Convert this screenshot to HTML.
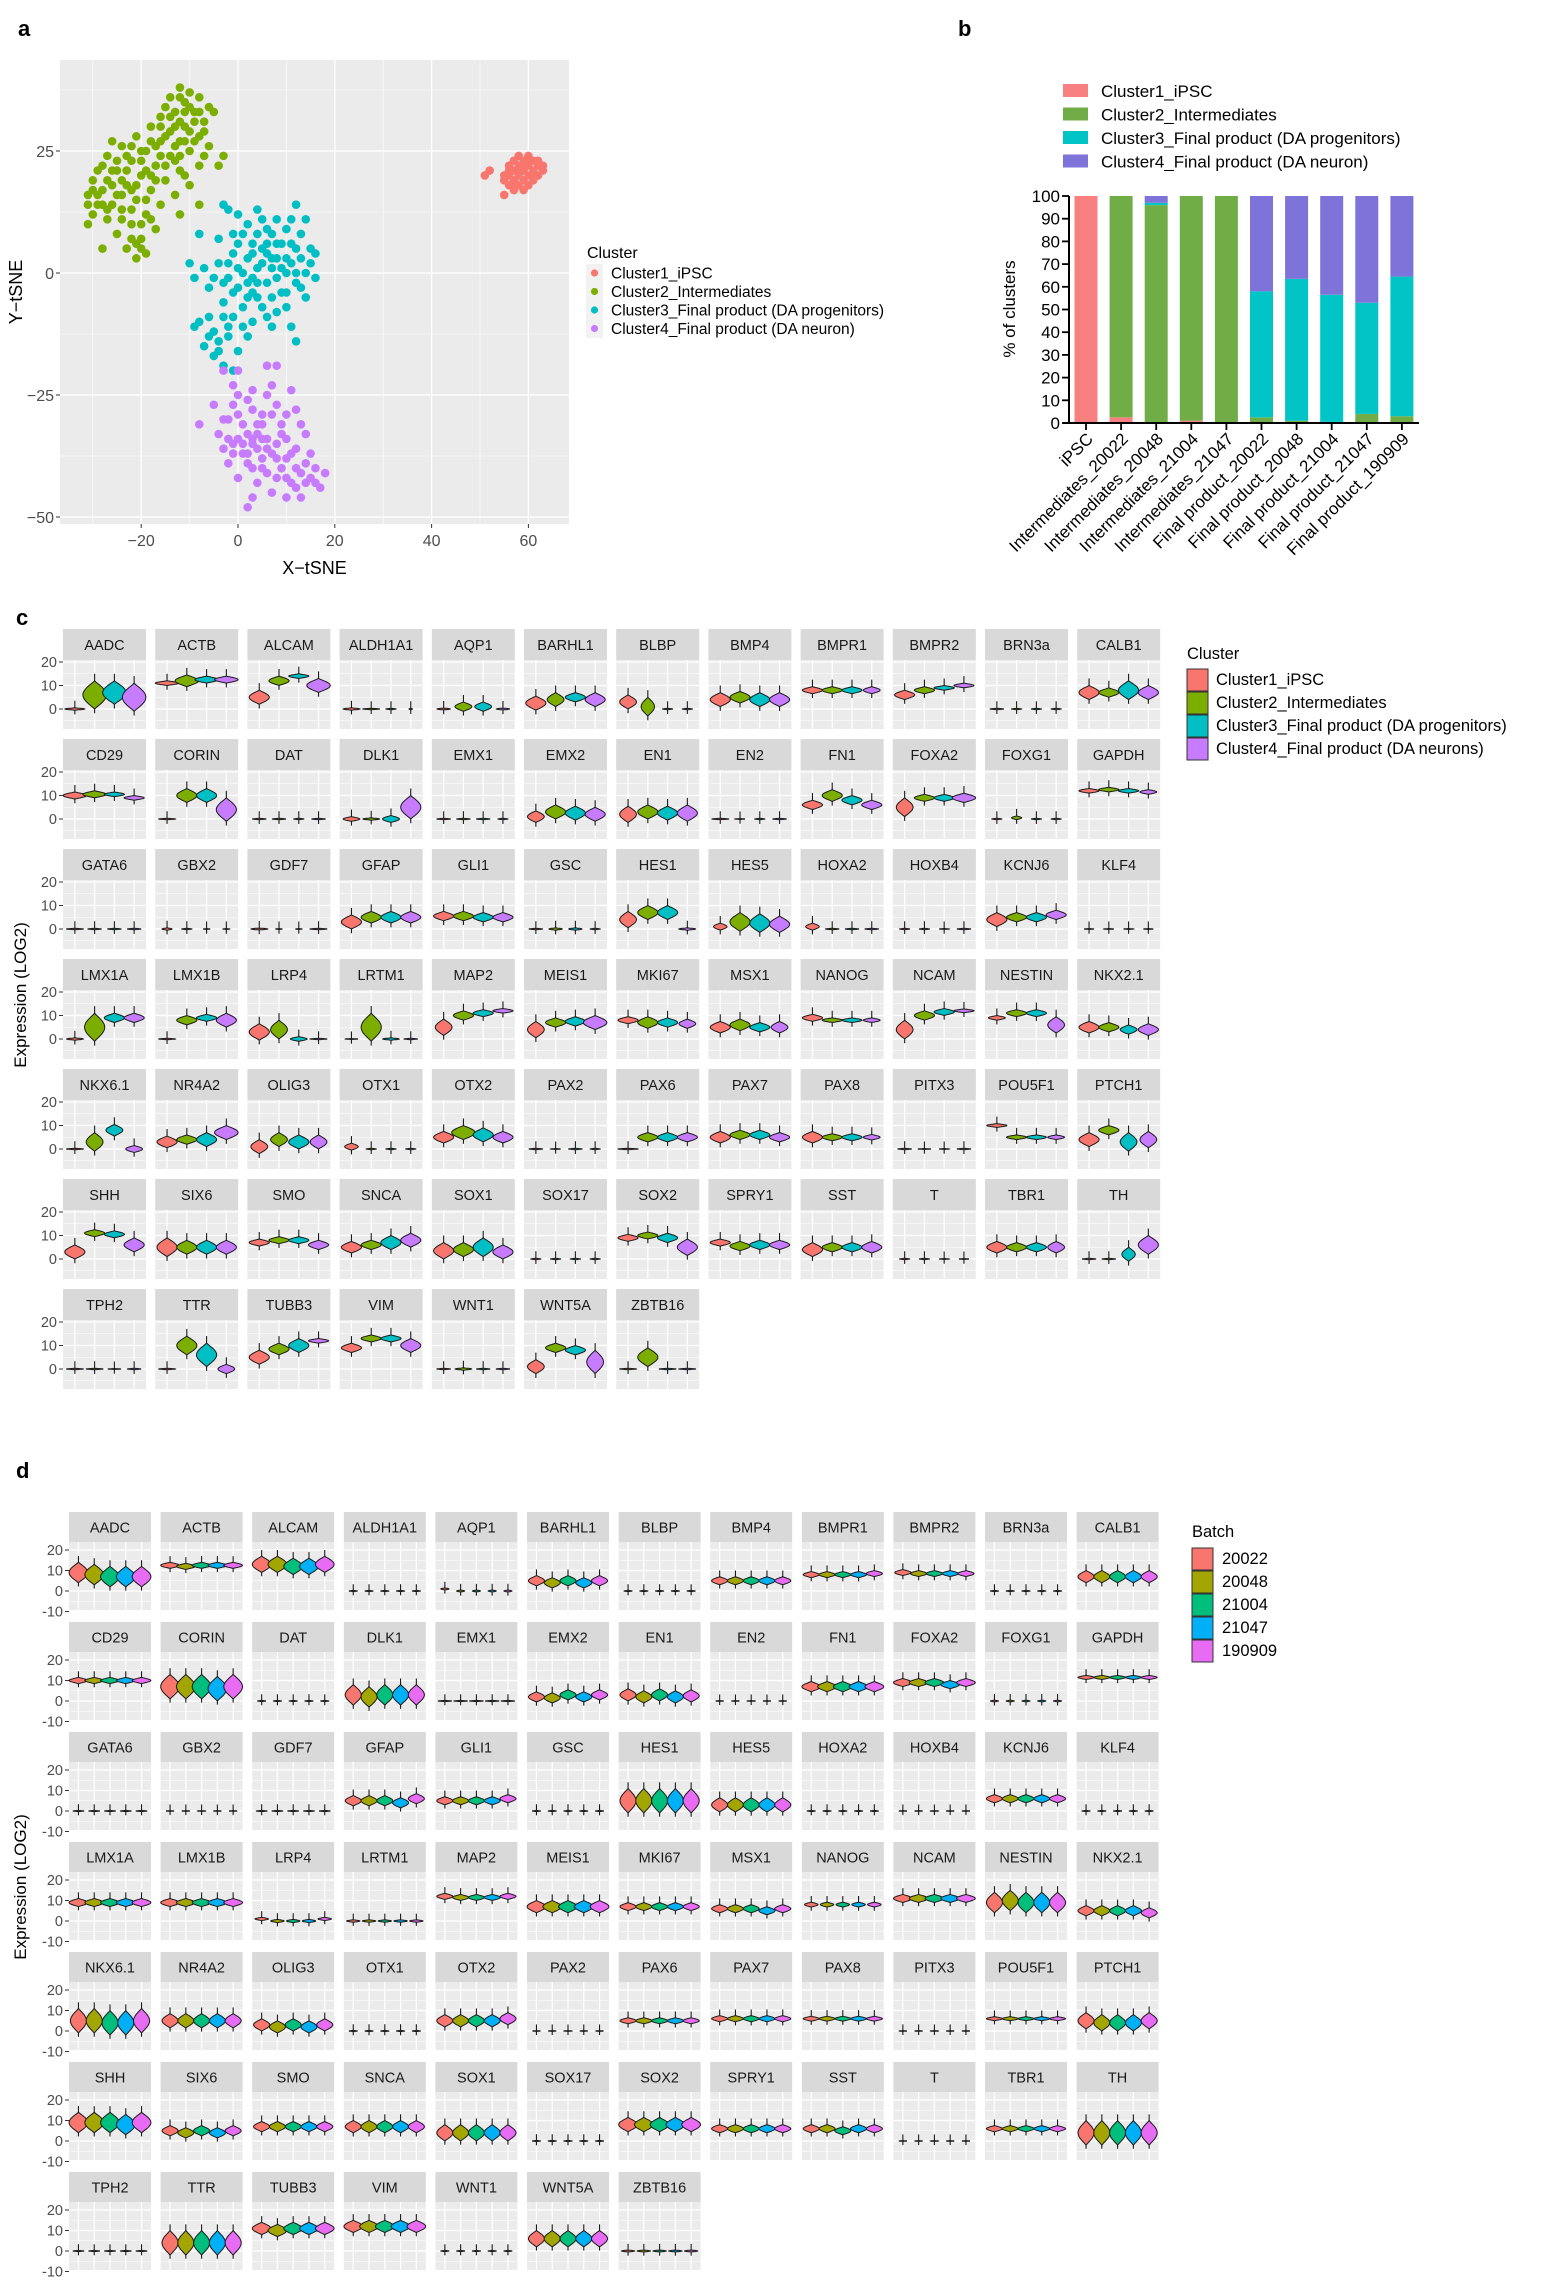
<!DOCTYPE html>
<html><head><meta charset="utf-8">
<style>
html,body{margin:0;padding:0;background:#fff;}
svg{display:block;font-family:"Liberation Sans",Arial,sans-serif;}
</style></head>
<body>
<svg id="fig" width="1542" height="2289" viewBox="0 0 1542 2289" xmlns="http://www.w3.org/2000/svg">
<rect width="1542" height="2289" fill="#fff"/>
<g id="panelA"></g>
<g id="panelB"></g>
<g id="panelC"></g>
<g id="panelD"></g>
</svg>
<script>
// ---------- Panel a data ----------
const tsneClusters = ["Cluster1_iPSC","Cluster2_Intermediates","Cluster3_Final product (DA progenitors)","Cluster4_Final product (DA neuron)"];
const tsneColors = ["#F8766D","#7CAE00","#00BFC4","#C77CFF"];
const tsneXTicks = [-20,0,20,40,60];
const tsneYTicks = [25,0,-25,-50];
const tsneC1 = [[58,24],[60,23],[62,22],[56,22],[59,22],[61,21],[57,21],[63,21],[58,20],[60,20],[55,20],[52,21],[51,20],[57,19],[59,19],[61,19],[56,18],[58,18],[60,18],[57,17],[55,16],[62,20],[59,23],[61,23],[57,23],[59,21],[60,22],[58,21],[56,20],[62,23],[60,24],[57,18],[59,17],[61,20],[58,22],[55,19],[63,22],[56,21]];
const tsneC2 = [[-12,38],[-10,37],[-14,36],[-8,36],[-11,35],[-6,34],[-13,33],[-9,33],[-16,32],[-7,31],[-12,31],[-18,30],[-10,29],[-14,29],[-21,28],[-8,28],[-16,27],[-12,27],[-24,26],[-19,25],[-10,25],[-14,24],[-27,24],[-22,23],[-17,22],[-8,22],[-4,22],[-12,21],[-29,21],[-25,21],[-20,20],[-15,19],[-27,19],[-10,18],[-23,18],[-30,17],[-18,17],[-25,16],[-13,16],[-31,14],[-21,15],[-28,14],[-16,14],[-8,14],[-24,13],[-30,12],[-19,12],[-27,11],[-12,12],[-22,10],[-31,10],[-17,9],[-25,8],[-20,7],[-23,5],[-19,4],[-21,3],[-28,5],[-11,20],[-6,26],[-3,24],[-26,27],[-15,34],[-9,31],[-11,33],[-13,30],[-17,26],[-20,23],[-23,21],[-26,18],[-22,17],[-19,15],[-24,11],[-21,6],[-29,16],[-15,22],[-18,20],[-13,26],[-7,29],[-5,33],
[-12,36],[-10,34],[-14,32],[-11,30],[-9,27],[-15,28],[-18,27],[-20,25],[-22,26],[-25,23],[-28,22],[-30,19],[-28,17],[-24,19],[-21,18],[-19,21],[-16,24],[-13,23],[-27,13],[-29,14],[-26,14],[-22,13],[-20,10],[-18,11],[-22,7],[-20,5],[-24,16],[-17,19],[-11,27],[-8,33],[-12,24],[-23,24],[-26,21],[-31,16],[-7,24],[-16,30]];
const tsneC3 = [[-3,14],[-2,13],[0,12],[4,13],[12,14],[8,11],[11,11],[14,11],[2,10],[6,9],[10,9],[-8,8],[4,8],[13,8],[-4,7],[0,6],[8,6],[11,6],[15,5],[-1,4],[3,4],[6,4],[10,3],[13,3],[16,4],[-10,2],[-7,1],[-4,2],[0,1],[4,1],[7,1],[10,0],[14,0],[-9,-1],[-2,-1],[2,-2],[6,-2],[12,-2],[16,-1],[-6,-3],[-1,-4],[3,-4],[9,-4],[14,-5],[-3,-6],[1,-7],[5,-7],[10,-7],[-6,-9],[-1,-9],[3,-10],[7,-11],[11,-11],[-9,-11],[-5,-12],[-2,-13],[2,-13],[-7,-15],[-4,-16],[0,-16],[-3,-19],[-1,-20],[12,-14],[4,-5],[8,-1],[2,3],[-3,-2],[6,6],[1,0],[3,-1],[5,2],[8,3],[-5,-1],[12,5],[7,-5],[-4,-14],
[1,8],[3,6],[5,5],[7,3],[9,1],[11,2],[13,-3],[2,-5],[0,-3],[-2,2],[-1,8],[5,11],[9,6],[12,0],[6,-9],[8,-8],[4,-2],[-2,-11],[-6,-13],[-8,-10],[-5,-17],[1,-11],[-3,-9],[10,-4],[15,2],[7,8]];
const tsneC4 = [[-3,-20],[0,-20],[6,-19],[8,-19],[-1,-23],[3,-24],[7,-23],[11,-24],[-5,-27],[-1,-27],[3,-28],[8,-27],[12,-28],[-8,-31],[-2,-30],[1,-31],[5,-31],[9,-31],[13,-31],[-4,-33],[0,-34],[3,-34],[6,-34],[10,-34],[14,-33],[-3,-36],[1,-37],[4,-36],[7,-37],[11,-37],[15,-37],[-2,-39],[2,-39],[5,-40],[9,-40],[12,-40],[16,-40],[18,-41],[0,-42],[4,-43],[8,-42],[11,-43],[14,-43],[17,-44],[3,-46],[7,-45],[10,-46],[2,-48],[13,-46],[5,-38],[8,-35],[-1,-35],[4,-31],[2,-26],[3,-35],[6,-36],[2,-33],[5,-29],[10,-38],[13,-41],[15,-42],
[0,-29],[-3,-30],[7,-29],[10,-29],[4,-33],[1,-35],[-1,-37],[8,-38],[12,-36],[14,-39],[6,-41],[3,-40],[10,-42],[16,-43],[12,-44],[-2,-34],[2,-37],[5,-34],[9,-33],[6,-25],[0,-25]];

// ---------- Panel b data ----------
const barCategories = ["iPSC","Intermediates_20022","Intermediates_20048","Intermediates_21004","Intermediates_21047","Final product_20022","Final product_20048","Final product_21004","Final product_21047","Final product_190909"];
const barSeriesNames = ["Cluster1_iPSC","Cluster2_Intermediates","Cluster3_Final product (DA progenitors)","Cluster4_Final product (DA neuron)"];
const barColors = ["#F88080","#70AD47","#00C4C6","#7E73D8"];
const barC1 = [100,2.5,0,1,0,0,0,0,0,0];
const barC2 = [0,97.5,96,99,100,2.5,1,0.5,4,3];
const barC3 = [0,0,1,0,0,55.5,62.5,56,49,61.5];
const barC4 = [0,0,3,0,0,42,36.5,43.5,47,35.5];
const barYTicks = [0,10,20,30,40,50,60,70,80,90,100];

// ---------- Panel c data: per gene, per cluster [center, half-span, width] ----------
const genes = ["AADC","ACTB","ALCAM","ALDH1A1","AQP1","BARHL1","BLBP","BMP4","BMPR1","BMPR2","BRN3a","CALB1",
"CD29","CORIN","DAT","DLK1","EMX1","EMX2","EN1","EN2","FN1","FOXA2","FOXG1","GAPDH",
"GATA6","GBX2","GDF7","GFAP","GLI1","GSC","HES1","HES5","HOXA2","HOXB4","KCNJ6","KLF4",
"LMX1A","LMX1B","LRP4","LRTM1","MAP2","MEIS1","MKI67","MSX1","NANOG","NCAM","NESTIN","NKX2.1",
"NKX6.1","NR4A2","OLIG3","OTX1","OTX2","PAX2","PAX6","PAX7","PAX8","PITX3","POU5F1","PTCH1",
"SHH","SIX6","SMO","SNCA","SOX1","SOX17","SOX2","SPRY1","SST","T","TBR1","TH",
"TPH2","TTR","TUBB3","VIM","WNT1","WNT5A","ZBTB16"];
const clusterNames = ["Cluster1_iPSC","Cluster2_Intermediates","Cluster3_Final product (DA progenitors)","Cluster4_Final product (DA neurons)"];
const clusterColors = ["#F8766D","#7CAE00","#00BFC4","#C77CFF"];
const clusterViolins = [
[[0,.5,.6],[6,6,.7],[7,5,.7],[5,6,.7]],
[[11,1,.7],[12,2.5,.7],[12.5,1.5,.7],[12.5,1.5,.7]],
[[5,3,.6],[12,2,.6],[14,1,.6],[10,3,.7]],
[[0,.5,.5],[0,.3,.5],[0,.3,.3],[0,.3,.1]],
[[0,.4,.4],[1,2,.5],[1,2,.5],[0,.4,.4]],
[[2.5,3,.6],[4,3,.5],[5,2,.6],[4,3,.6]],
[[3,3,.5],[1,4,.4],[0,.3,.3],[0,.3,.3]],
[[4,3,.6],[5,2.5,.6],[4,3,.6],[4,3,.6]],
[[8,1.5,.6],[8,1.5,.6],[8,1.5,.6],[8,1.5,.5]],
[[6,2,.6],[8,1.5,.6],[9,1,.6],[10,1,.6]],
[[0,.3,.4],[0,.3,.3],[0,.3,.3],[0,.3,.3]],
[[7,3,.6],[7,2,.6],[8,4,.6],[7,3,.6]],
[[10,1.5,.7],[10.5,1.5,.7],[10.5,1,.6],[9,1,.6]],
[[0,.3,.5],[10,3,.6],[10,3,.6],[4,5,.6]],
[[0,.3,.4],[0,.3,.4],[0,.3,.3],[0,.3,.4]],
[[0,1,.5],[0,.5,.5],[0,1.5,.5],[5,5,.6]],
[[0,.3,.4],[0,.3,.4],[0,.3,.4],[0,.3,.3]],
[[1,2.5,.5],[3,3,.6],[2.5,3,.6],[2,3,.6]],
[[2,3.5,.5],[3,3,.6],[2.5,3,.6],[2.5,3.5,.6]],
[[0,.3,.5],[0,.2,.3],[0,.3,.3],[0,.3,.4]],
[[6,2,.6],[10,2.5,.6],[8,2,.6],[6,2,.6]],
[[5,4,.5],[9,1.5,.6],[9,1.5,.6],[9,2,.7]],
[[0,.3,.3],[.5,.8,.3],[0,.3,.3],[0,.3,.3]],
[[12,1,.6],[12.5,1,.6],[12,1,.6],[11.5,1,.5]],
[[0,.3,.5],[0,.3,.4],[0,.3,.4],[0,.3,.4]],
[[0,.5,.3],[0,.3,.3],[0,.2,.2],[0,.2,.2]],
[[0,.4,.5],[0,.2,.2],[0,.2,.2],[0,.3,.5]],
[[3,3,.6],[5,2.5,.6],[5,2.5,.6],[5,2.5,.6]],
[[5.5,2,.6],[5.5,2,.6],[5,2,.6],[5,2,.6]],
[[0,.3,.4],[0,.5,.4],[0,.5,.4],[0,.3,.3]],
[[4,3.5,.5],[7,3,.6],[7,3,.6],[0,.5,.5]],
[[1,1.5,.4],[3,4,.6],[2.5,4,.6],[2,3.5,.6]],
[[1,1.5,.4],[0,.3,.4],[0,.3,.4],[0,.3,.4]],
[[0,.3,.3],[0,.3,.3],[0,.2,.3],[0,.3,.4]],
[[4,3,.6],[5,2,.6],[5,2,.6],[6,2,.6]],
[[0,.2,.3],[0,.2,.3],[0,.2,.3],[0,.2,.3]],
[[0,.5,.5],[5,6,.6],[9,2,.6],[9,2,.6]],
[[0,.3,.5],[8,2,.6],[9,1.5,.6],[8,3,.6]],
[[3,3.5,.6],[4,4,.5],[0,1,.5],[0,.3,.5]],
[[0,.2,.4],[5,6,.6],[0,.5,.5],[0,.3,.4]],
[[5,3.5,.5],[10,2,.6],[11,1.5,.6],[12,1,.6]],
[[4,3.5,.5],[7,2,.6],[7.5,2,.6],[7,3,.7]],
[[8,1.5,.6],[7,2.5,.6],[7,2,.6],[6.5,2,.5]],
[[5,2.5,.6],[6,2.5,.6],[5,2,.6],[5,2.5,.5]],
[[9,1.5,.6],[8,1,.6],[8,1,.6],[8,1,.5]],
[[4,4,.5],[10,2,.6],[11.5,1.5,.6],[12,.8,.6]],
[[9,1,.5],[11,1.5,.6],[11,1.5,.6],[6,3.5,.5]],
[[5,2.5,.6],[5,2,.6],[4,2,.5],[4,2.5,.6]],
[[0,.3,.5],[3,4,.5],[8,2.5,.5],[0,1.5,.5]],
[[3,2.5,.6],[4,2,.6],[4,3,.6],[7,3,.7]],
[[1,3,.5],[4,3,.5],[3,3,.6],[3,3,.5]],
[[1,1.5,.4],[0,.3,.3],[0,.3,.3],[0,.3,.3]],
[[5,2.5,.6],[7,3,.7],[6,3,.6],[5,2.5,.6]],
[[0,.3,.4],[0,.2,.3],[0,.3,.4],[0,.3,.3]],
[[0,.3,.6],[5,2,.6],[5,2,.6],[5,2,.6]],
[[5,2.5,.6],[6,2,.6],[6,2,.6],[5,2,.6]],
[[5,2.5,.6],[5,1.5,.6],[5,1.5,.6],[5,1.2,.5]],
[[0,.3,.4],[0,.2,.4],[0,.2,.3],[0,.3,.4]],
[[10,.8,.6],[5,1,.6],[5,1,.6],[5,1,.5]],
[[4,3,.6],[8,2,.6],[3,4,.5],[4,3.5,.5]],
[[3,3,.6],[11,1.5,.6],[10.5,1.5,.6],[6,3,.6]],
[[5,4,.6],[5,3,.6],[5,3,.6],[5,3,.6]],
[[7,1.5,.6],[8,1.5,.6],[8,1.5,.6],[6,2,.6]],
[[5,2.5,.6],[6,2,.6],[7,3,.6],[8,3,.6]],
[[3.5,3.5,.6],[4,3,.6],[5,4,.6],[3,3,.6]],
[[0,.3,.3],[0,.3,.3],[0,.3,.3],[0,.3,.3]],
[[9,1.5,.6],[10,1.5,.6],[9,2,.6],[5,3.5,.6]],
[[7,1.5,.6],[5.5,2,.6],[6,2,.6],[6,2,.6]],
[[4,3,.6],[5,2,.6],[5,2,.6],[5,2.5,.6]],
[[0,.3,.3],[0,.3,.3],[0,.2,.3],[0,.2,.3]],
[[5,2.5,.6],[5,2,.6],[5,2,.6],[5,2.5,.5]],
[[0,.3,.4],[0,.3,.4],[2,3,.4],[6,4,.6]],
[[0,.3,.5],[0,.3,.5],[0,.2,.4],[0,.3,.4]],
[[0,.3,.5],[10,4,.6],[6,5,.6],[0,2,.5]],
[[5,3,.6],[8.5,2.5,.6],[10,3,.6],[12,1,.6]],
[[9,2,.6],[13,1.5,.6],[13,1.5,.6],[10,3,.6]],
[[0,.3,.4],[0,.5,.5],[0,.3,.4],[0,.3,.4]],
[[1,3,.5],[9,2,.6],[8,2,.6],[3,5,.5]],
[[0,.3,.5],[5,4,.6],[0,.3,.5],[0,.3,.5]]
];
const cYTicks = [0,10,20];

// ---------- Panel d data ----------
const batchNames = ["20022","20048","21004","21047","190909"];
const batchColors = ["#F8766D","#A3A500","#00BF7D","#00B0F6","#E76BF3"];
const batchCenters = [
[9,8,7,7,7],[12.5,12,12.5,12.5,12.5],[13,13,12,12,13],[0,0,0,0,0],[1,0,0,0,0],[5,4,5,4,5],[0,0,0,0,0],[5,5,5,5,5],[8,8,8,8,8.5],[9,8.5,8.5,8.5,8.5],[0,0,0,0,0],[7,7,7,7,7],
[10,10,10,10,10],[7,7,7,6,7],[0,0,0,0,0],[3,2,3,3,3],[0,0,0,0,0],[2,1.5,3,2,3],[3,2,3,2,2.5],[0,0,0,0,0],[7,7,7,7,7],[9,9,9,8,9],[0,0,0,0,0],[11.5,11.5,11.5,11.5,11.5],
[0,0,0,0,0],[0,0,0,0,0],[0,0,0,0,0],[5,5,5,4,6],[5,5,5,5,6],[0,0,0,0,0],[5,5,5,5,5],[3,3,3,3,3],[0,0,0,0,0],[0,0,0,0,0],[6,6,6,6,6],[0,0,0,0,0],
[9,9,9,9,9],[9,9,9,9,9],[1,0,0,0,1],[0,0,0,0,0],[12,11.5,11.5,11.5,12],[7,7,7,7,7],[7,7,7,7,7],[6,6,6,5,6],[8,8,8,8,8],[11,11,11,11,11],[9,10,9,9,9],[5,5,5,5,4],
[5,5,4,4,5],[5,5,5,5,5],[3,2,3,2,3],[0,0,0,0,0],[5,5,5,5,6],[0,0,0,0,0],[5,5,5,5,5],[6,6,6,6,6],[6,6,6,6,6],[0,0,0,0,0],[6,6,6,6,6],[5,4,4,4,5],
[9,9,9,8,9],[5,4,5,4,5],[7,7,7,7,7],[7,7,7,7,7],[4,4,4,4,4],[0,0,0,0,0],[8,8,8,8,8],[6,6,6,6,6],[6,6,5,6,6],[0,0,0,0,0],[6,6,6,6,6],[4,4,4,4,4],
[0,0,0,0,0],[4,4,4,4,4],[11,10,11,11,11],[12,12,12,12,12],[0,0,0,0,0],[6,6,6,6,6],[0,0,0,0,0]
];
const batchSpan = [5,1.5,4,.3,.5,2.5,.3,2,1.5,1.5,.3,3, 1.5,6,.3,5,.3,2.5,3,.2,2.5,2,.4,1, .3,.2,.3,2.5,2,.3,6,3.5,.3,.2,2,.3, 2,2,.8,.6,1.5,3,2,2,1.2,2,5,2.5, 6,3.5,3,.3,3,.2,1.5,1.5,1.2,.2,1,4, 5,2.5,2.5,3,4,.3,3.5,2,2,.2,1.5,6, .3,6,3,3,.3,4,.5];
const batchWidth = [.7,.7,.7,.3,.3,.6,.3,.6,.6,.6,.3,.6, .7,.7,.3,.6,.5,.6,.6,.3,.7,.7,.3,.6, .4,.3,.4,.6,.6,.3,.6,.6,.3,.3,.6,.3, .7,.7,.5,.5,.6,.7,.6,.6,.5,.7,.6,.6, .6,.6,.6,.3,.6,.3,.6,.6,.6,.3,.6,.6, .7,.6,.6,.6,.6,.3,.7,.6,.6,.3,.6,.6, .4,.6,.7,.7,.3,.6,.5];
const dYTicks = [-10,0,10,20];

const NS = "http://www.w3.org/2000/svg";
function el(tag, attrs, parent){ const e=document.createElementNS(NS,tag); for(const k in attrs) e.setAttribute(k,attrs[k]); if(parent) parent.appendChild(e); return e; }
function txt(s, attrs, parent){ const e=el("text",attrs,parent); e.textContent=s; return e; }

// ================= Panel a =================
(function(){
  const g=document.getElementById("panelA");
  const L=60,R=569,T=60,B=524;
  const xs=v=>238+v*4.84, ys=v=>273-v*4.88;
  const lab=txt("a",{x:18,y:36,"font-size":22,"font-weight":"bold"},g);
   
  const bg=el("rect",{x:L,y:T,width:R-L,height:B-T,fill:"#EBEBEB"},g);
   
  for(let v=-30;v<=70;v+=10){ const x=xs(v); if(x>L&&x<R) el("line",{x1:x,x2:x,y1:T,y2:B,stroke:"#fff","stroke-width":tsneXTicks.includes(v)?1.3:0.6},g); }
  for(let v=37.5;v>=-50;v-=12.5){ const y=ys(v); if(y>T&&y<B) el("line",{x1:L,x2:R,y1:y,y2:y,stroke:"#fff","stroke-width":tsneYTicks.includes(v)?1.3:0.6},g); }
  const sets=[tsneC1,tsneC2,tsneC3,tsneC4];
  sets.forEach((pts,ci)=>{ pts.forEach(p=>{ const c=el("circle",{cx:xs(p[0]),cy:ys(p[1]),r:4.3,fill:tsneColors[ci]},g);
      }); });
  tsneXTicks.forEach(v=>{ const x=xs(v); el("line",{x1:x,x2:x,y1:B,y2:B+4,stroke:"#333"},g);
    const t=txt(String(v).replace("-","\u2212"),{x:x,y:B+22,"font-size":16,fill:"#4D4D4D","text-anchor":"middle"},g);
      });
  tsneYTicks.forEach(v=>{ const y=ys(v); el("line",{x1:L-4,x2:L,y1:y,y2:y,stroke:"#333"},g);
    const t=txt(String(v).replace("-","\u2212"),{x:L-6,y:y+6,"font-size":16,fill:"#4D4D4D","text-anchor":"end"},g);
      });
  const xt=txt("X\u2212tSNE",{x:(L+R)/2,y:574,"font-size":18,"text-anchor":"middle"},g);
   
  const yt=txt("Y\u2212tSNE",{x:0,y:0,"font-size":18,"text-anchor":"middle",transform:"translate(22,292) rotate(-90)"},g);
   
  const lg=el("g",{},g);  
  txt("Cluster",{x:587,y:258,"font-size":16},lg);
  el("rect",{x:586,y:264,width:17,height:74,fill:"#F2F2F2"},lg);
  tsneClusters.forEach((n,i)=>{ const y=273+i*18.5;
    const d=el("circle",{cx:594.5,cy:y,r:3.6,fill:tsneColors[i]},lg);
     
    const t=txt(n,{x:611,y:y+5.5,"font-size":15.5},lg);
      });
})();

// ================= Panel b =================
(function(){
  const g=document.getElementById("panelB");
  const y0=423, ppu=2.27, axL=1069, axR=1419;
  const ys=v=>y0-v*ppu;
  const xc=i=>1086+i*35.1;
  const lab=txt("b",{x:958,y:36,"font-size":22,"font-weight":"bold"},g);
   
  const lg=el("g",{},g);  
  barSeriesNames.forEach((n,i)=>{ const y=91+i*23.5;
    el("rect",{x:1063,y:y-7,width:25,height:13,fill:barColors[i]},lg);
    const t=txt(n,{x:1101,y:y+6,"font-size":17},lg);
      });
  const series=[barC1,barC2,barC3,barC4];
  barCategories.forEach((c,i)=>{ let acc=0;
    series.forEach((s,si)=>{ const v=s[i]; if(v>0){ const r=el("rect",{x:xc(i)-11.5,y:ys(acc+v),width:23,height:v*ppu,fill:barColors[si]},g);
        } acc+=v; });
  });
  el("line",{x1:axL,x2:axL,y1:ys(100),y2:y0+1,stroke:"#000","stroke-width":2},g);
  el("line",{x1:axL-6,x2:axR,y1:y0,y2:y0,stroke:"#000","stroke-width":2},g);
  barYTicks.forEach(v=>{ const y=ys(v); el("line",{x1:axL-7,x2:axL,y1:y,y2:y,stroke:"#000","stroke-width":1.8},g);
    const t=txt(String(v),{x:axL-9,y:y+6,"font-size":17,"text-anchor":"end"},g);
      });
  barCategories.forEach((c,i)=>{ const x=xc(i); el("line",{x1:x,x2:x,y1:y0,y2:y0+7,stroke:"#000","stroke-width":1.8},g);
    const t=txt(c,{x:0,y:0,"font-size":17,"text-anchor":"end",transform:`translate(${x+8},${y0+17}) rotate(-45)`},g);
      });
  const yt=txt("% of clusters",{x:0,y:0,"font-size":17,"text-anchor":"middle",transform:"translate(1015,309) rotate(-90)"},g);
   
})();

// ================= Violin helper =================
function violin(g, cx, unit, ys, m, h, w, color){
  const hw=w*unit*0.85;
  const lo=m-h-1.8, hi=m+h+3;
  el("line",{x1:cx,x2:cx,y1:ys(hi),y2:ys(lo),stroke:"#1a1a1a","stroke-width":1.1},g);
  const N=20; let left=[],right=[];
  for(let k=0;k<=N;k++){ const t=-1+2*k/N; const v=m+t*h; const wd=hw*Math.pow(Math.cos(Math.PI/2*t),1.1);
    right.push([cx+wd,ys(v)]); left.unshift([cx-wd,ys(v)]); }
  const pts=right.concat(left).map(p=>p[0].toFixed(1)+","+p[1].toFixed(1)).join(" ");
  return el("polygon",{points:pts,fill:color,stroke:"#1a1a1a","stroke-width":1},g);
}

function facetGrid(g, opts, nGroups, colors, getViolin){
  genes.forEach((gene,gi)=>{
    const col=gi%12, row=Math.floor(gi/12);
    const x=opts.left+col*opts.step, st=opts.top+row*110, pt=st+opts.stripH, pb=pt+opts.plotH;
    const ys=v=>pt+(opts.ymax-v)*opts.ppu;
    const fg=el("g",{},g);  
    el("rect",{x:x,y:st,width:opts.w,height:opts.stripH,fill:"#D9D9D9"},fg);
    const t=txt(gene,{x:x+opts.w/2,y:st+opts.stripH/2+5.5,"font-size":14.5,fill:"#1A1A1A","text-anchor":"middle"},fg);
     
    el("rect",{x:x,y:pt,width:opts.w,height:opts.plotH,fill:"#EBEBEB"},fg);
    const ticks=opts.ticks;
    for(let v=ticks[0]-5;v<=ticks[ticks.length-1]+5;v+=5){ const y=ys(v); if(y>pt&&y<pb) el("line",{x1:x,x2:x+opts.w,y1:y,y2:y,stroke:"#fff","stroke-width":(v%10===0)?1.2:0.6},fg); }
    const unit=opts.w/(nGroups+0.2);
    for(let k=0;k<nGroups;k++){ const cx=x+(k+0.6)*unit; el("line",{x1:cx,x2:cx,y1:pt,y2:pb,stroke:"#fff","stroke-width":1.2},fg); }
    for(let k=0;k<nGroups;k++){ const cx=x+(k+0.6)*unit; const d=getViolin(gi,k);
      const p=violin(fg,cx,unit,ys,d[0],d[1],d[2],colors[k]);
        }
    if(col===0){ ticks.forEach(v=>{ const y=ys(v); el("line",{x1:x-4,x2:x,y1:y,y2:y,stroke:"#333"},g);
      const tl=txt(String(v),{x:x-6,y:y+5,"font-size":14.5,fill:"#4D4D4D","text-anchor":"end"},g);
        }); }
  });
}

// ================= Panel c =================
(function(){
  const g=document.getElementById("panelC");
  const lab=txt("c",{x:16,y:625,"font-size":22,"font-weight":"bold"},g);
   
  facetGrid(g,{left:63,step:92.2,w:83,top:629,stripH:31,plotH:69,ymax:20.85,ppu:2.35,ticks:cYTicks},4,clusterColors,(gi,k)=>clusterViolins[gi][k]);
  const yt=txt("Expression (LOG2)",{x:0,y:0,"font-size":17,"text-anchor":"middle",transform:"translate(26,995) rotate(-90)"},g);
   
  const lg=el("g",{},g);  
  txt("Cluster",{x:1187,y:659,"font-size":16.5},lg);
  clusterNames.forEach((n,i)=>{ const y=669+i*23;
    const r=el("rect",{x:1187,y:y,width:21,height:22,fill:clusterColors[i],stroke:"#333","stroke-width":1},lg);
     
    const t=txt(n,{x:1216,y:y+16,"font-size":16.5},lg);
      });
})();

// ================= Panel d =================
(function(){
  const g=document.getElementById("panelD");
  const lab=txt("d",{x:16,y:1478,"font-size":22,"font-weight":"bold"},g);
   
  facetGrid(g,{left:69,step:91.6,w:82,top:1512,stripH:30,plotH:68,ymax:23.9,ppu:2.05,ticks:dYTicks},5,batchColors,(gi,k)=>[batchCenters[gi][k],batchSpan[gi],batchWidth[gi]]);
  const yt=txt("Expression (LOG2)",{x:0,y:0,"font-size":17,"text-anchor":"middle",transform:"translate(26,1887) rotate(-90)"},g);
   
  const lg=el("g",{},g);  
  txt("Batch",{x:1192,y:1537,"font-size":16.5},lg);
  batchNames.forEach((n,i)=>{ const y=1548+i*23;
    const r=el("rect",{x:1192,y:y,width:21,height:22,fill:batchColors[i],stroke:"#333","stroke-width":1},lg);
     
    const t=txt(n,{x:1222,y:y+16,"font-size":16.5},lg);
      });
})();
</script>
</body></html>
